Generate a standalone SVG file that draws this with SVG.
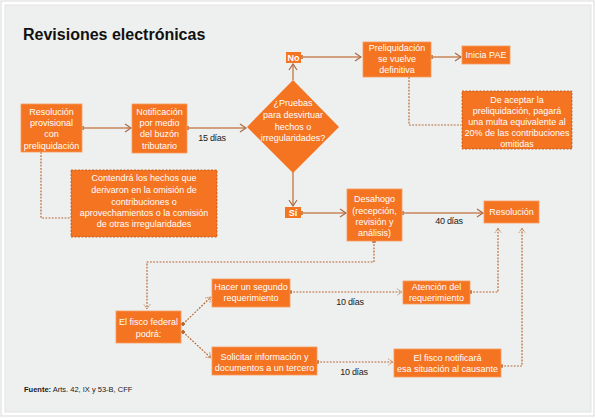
<svg xmlns="http://www.w3.org/2000/svg" width="595" height="418" viewBox="0 0 595 418">
<style>
.box{fill:#f47421;stroke:#f79b60;stroke-width:0.8}
.note{fill:#f47421;stroke:#b4561e;stroke-width:0.8;stroke-dasharray:2,1.5}
.t{font-family:"Liberation Sans",Arial,sans-serif;font-size:9px;fill:#ffffff;text-anchor:middle}
.lbl{font-family:"Liberation Sans",Arial,sans-serif;font-size:9px;fill:#1a1a1a;text-anchor:middle;letter-spacing:-0.3px}
.sol{fill:none;stroke:#c8855a;stroke-width:1.5}
.dot{fill:none;stroke:#b7642f;stroke-width:1.2;stroke-dasharray:1.8,1.4}
</style>
<defs>
<marker id="ah" viewBox="0 0 8 10" refX="7" refY="5" markerWidth="8" markerHeight="10" markerUnits="userSpaceOnUse" orient="auto">
<path d="M1,1 L7,5 L1,9" fill="none" stroke="#a86a45" stroke-width="1.2"/>
</marker>
<marker id="ahd" viewBox="0 0 8 10" refX="7" refY="5" markerWidth="7" markerHeight="8" markerUnits="userSpaceOnUse" orient="auto">
<path d="M1,1 L7,5 L1,9" fill="none" stroke="#b7642f" stroke-width="1" stroke-dasharray="1.5,1"/>
</marker>
<marker id="sq" viewBox="0 0 4 4" refX="2" refY="2" markerWidth="4" markerHeight="4" markerUnits="userSpaceOnUse" orient="auto">
<rect x="0" y="0" width="4" height="4" fill="#c8855a"/>
</marker>
<marker id="sqd" viewBox="0 0 4 4" refX="2" refY="2" markerWidth="3.5" markerHeight="3.5" markerUnits="userSpaceOnUse" orient="auto">
<rect x="0" y="0" width="4" height="4" fill="#b7642f"/>
</marker>
</defs>
<rect x="0" y="0" width="595" height="418" fill="#ffffff"/>
<rect x="1" y="1" width="593" height="415" fill="#ffffff" stroke="#d9d9d9" stroke-width="1"/>
<rect x="5" y="5" width="586" height="407" fill="#eef0ef" stroke="#e2e3e2" stroke-width="1"/>
<text x="23" y="40" font-family="Liberation Sans,Arial,sans-serif" font-size="16" font-weight="bold" fill="#111111">Revisiones electrónicas</text>

<g id="connectors">
<path class="sol" d="M82,128 H131" marker-start="url(#sq)" marker-end="url(#ah)"/>
<path class="sol" d="M187,128 H246" marker-start="url(#sq)" marker-end="url(#ah)"/>
<path class="sol" d="M293,80 V64" marker-end="url(#ah)"/>
<path class="sol" d="M301,57 H361" marker-start="url(#sq)" marker-end="url(#ah)"/>
<path class="sol" d="M431,57 H461" marker-start="url(#sq)" marker-end="url(#ah)"/>
<path class="sol" d="M293,172 V206" marker-end="url(#ah)"/>
<path class="sol" d="M301,213 H346" marker-start="url(#sq)" marker-end="url(#ah)"/>
<path class="sol" d="M402,213 H483" marker-start="url(#sq)" marker-end="url(#ah)"/>
<path class="dot" d="M409,77 V125 H461"/>
<path class="dot" d="M41,152 V218 H71"/>
<path class="dot" d="M374,241 V262 H147 V309" marker-start="url(#sqd)" marker-end="url(#ahd)"/>
<path class="dot" d="M183,324 L211,297" marker-start="url(#sqd)" marker-end="url(#ahd)"/>
<path class="dot" d="M183,332 L211,358" marker-start="url(#sqd)" marker-end="url(#ahd)"/>
<path class="dot" d="M290,292 H402" marker-start="url(#sqd)" marker-end="url(#ahd)"/>
<path class="dot" d="M317,362 H393" marker-start="url(#sqd)" marker-end="url(#ahd)"/>
<path class="dot" d="M470,292 H498 V228" marker-start="url(#sqd)" marker-end="url(#ahd)"/>
<path class="dot" d="M501,366 H522 V228" marker-start="url(#sqd)" marker-end="url(#ahd)"/>
<text class="lbl" x="212" y="141">15 días</text>
<text class="lbl" x="449" y="224">40 días</text>
<text class="lbl" x="350" y="305">10 días</text>
<text class="lbl" x="354" y="375">10 días</text>
</g>

<g id="resolucion-provisional">
<rect class="box" x="21" y="104" width="61" height="48"/>
<text class="t" x="51.5" y="114.5">Resolución</text>
<text class="t" x="51.5" y="125.5">provisional</text>
<text class="t" x="51.5" y="137">con</text>
<text class="t" x="51.5" y="148.5">preliquidación</text>
</g>
<g id="notificacion">
<rect class="box" x="132" y="104" width="55" height="49"/>
<text class="t" x="159.5" y="114.5">Notificación</text>
<text class="t" x="159.5" y="125.5">por medio</text>
<text class="t" x="159.5" y="137">del buzón</text>
<text class="t" x="159.5" y="148.5">tributario</text>
</g>
<g id="pruebas">
<polygon points="293,80 339,127 293,173 247,127" fill="#f47421"/>
<text class="t" x="293" y="106">¿Pruebas</text>
<text class="t" x="293" y="118">para desvirtuar</text>
<text class="t" x="293" y="129.5">hechos o</text>
<text class="t" x="293" y="141">irregularidades?</text>
</g>
<g id="no">
<rect x="286" y="52" width="15" height="11" fill="#f47421"/>
<text class="t" x="293.5" y="60.5" font-weight="bold">No</text>
</g>
<g id="si">
<rect x="285" y="207" width="16" height="11" fill="#f47421"/>
<text class="t" x="293" y="215.5" font-weight="bold">Sí</text>
</g>
<g id="preliquidacion">
<rect class="box" x="363" y="42" width="68" height="35"/>
<text class="t" x="397" y="50.5">Preliquidación</text>
<text class="t" x="397" y="61.5">se vuelve</text>
<text class="t" x="397" y="72.5">definitiva</text>
</g>
<g id="inicia-pae">
<rect class="box" x="462" y="46" width="48" height="18"/>
<text class="t" x="486" y="58">Inicia PAE</text>
</g>
<g id="multa">
<rect class="note" x="462" y="91" width="110" height="58"/>
<text class="t" x="517" y="103">De aceptar la</text>
<text class="t" x="517" y="114">preliquidación, pagará</text>
<text class="t" x="517" y="125">una multa equivalente al</text>
<text class="t" x="517" y="136">20% de las contribuciones</text>
<text class="t" x="517" y="147">omitidas</text>
</g>
<g id="contendra">
<rect class="note" x="71" y="170" width="146" height="67"/>
<text class="t" x="144" y="181">Contendrá los hechos que</text>
<text class="t" x="144" y="193">derivaron en la omisión de</text>
<text class="t" x="144" y="205">contribuciones o</text>
<text class="t" x="144" y="216">aprovechamientos o la comisión</text>
<text class="t" x="144" y="227">de otras irregularidades</text>
</g>
<g id="desahogo">
<rect class="box" x="347" y="189" width="55" height="52"/>
<text class="t" x="374.5" y="202">Desahogo</text>
<text class="t" x="374.5" y="214">(recepción,</text>
<text class="t" x="374.5" y="225">revisión y</text>
<text class="t" x="374.5" y="236">análisis)</text>
</g>
<g id="resolucion">
<rect class="box" x="484" y="201" width="55" height="22"/>
<text class="t" x="511.5" y="215">Resolución</text>
</g>
<g id="fisco-federal">
<rect class="box" x="116" y="311" width="65" height="32"/>
<text class="t" x="148.5" y="325">El fisco federal</text>
<text class="t" x="148.5" y="337">podrá:</text>
</g>
<g id="segundo-requerimiento">
<rect class="box" x="212" y="279" width="78" height="28"/>
<text class="t" x="251" y="289.5">Hacer un segundo</text>
<text class="t" x="251" y="300.5">requerimiento</text>
</g>
<g id="atencion">
<rect class="box" x="403" y="281" width="67" height="23"/>
<text class="t" x="436.5" y="289.5">Atención del</text>
<text class="t" x="436.5" y="300.5">requerimiento</text>
</g>
<g id="solicitar">
<rect class="box" x="212" y="347" width="105" height="28"/>
<text class="t" x="264.5" y="360">Solicitar información y</text>
<text class="t" x="264.5" y="371">documentos a un tercero</text>
</g>
<g id="fisco-notificara">
<rect class="box" x="394" y="349" width="107" height="28"/>
<text class="t" x="447.5" y="360.5">El fisco notificará</text>
<text class="t" x="447.5" y="372">esa situación al causante</text>
</g>
<text x="24" y="392" font-family="Liberation Sans,Arial,sans-serif" font-size="7.5" fill="#1a1a1a"><tspan font-weight="bold">Fuente:</tspan> Arts. 42, IX y 53-B, CFF</text>
</svg>
